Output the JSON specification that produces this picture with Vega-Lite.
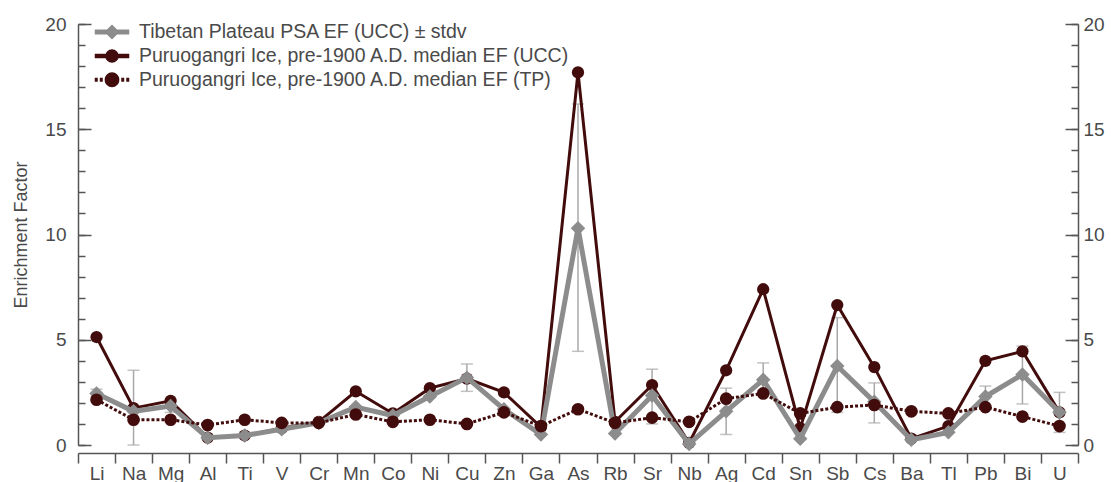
{
  "$schema": "https://vega.github.io/schema/vega-lite/v6.json",
  "width": 1000,
  "height": 421,
  "autosize": {"type": "none"},
  "padding": {"left": 78, "top": 24, "right": 33, "bottom": 37},
  "background": "white",
  "config": {
    "view": {"stroke": null},
    "font": "Liberation Sans",
    "axis": {"grid": false, "domainColor": "#555555", "tickColor": "#555555", "labelColor": "#4a4a4a", "labelFont": "Liberation Sans", "labelFontSize": 19, "domainWidth": 1.5, "tickWidth": 1.5, "titleFont": "Liberation Sans"},
    "legend": {"symbolFillColor": "#888888"}
  },
  "data": {
    "values": [
      {"el": "Li", "psa": 2.45, "lo": 2.3, "hi": 2.65, "ucc": 5.13, "tp": 2.15},
      {"el": "Na", "psa": 1.6, "lo": 0, "hi": 3.55, "ucc": 1.75, "tp": 1.2},
      {"el": "Mg", "psa": 1.85, "lo": 1.55, "hi": 2.15, "ucc": 2.1, "tp": 1.2},
      {"el": "Al", "psa": 0.35, "lo": null, "hi": null, "ucc": 0.35, "tp": 0.95},
      {"el": "Ti", "psa": 0.45, "lo": null, "hi": null, "ucc": 0.45, "tp": 1.2},
      {"el": "V", "psa": 0.75, "lo": null, "hi": null, "ucc": 0.8, "tp": 1.05},
      {"el": "Cr", "psa": 1.05, "lo": null, "hi": null, "ucc": 1.1, "tp": 1.05},
      {"el": "Mn", "psa": 1.8, "lo": null, "hi": null, "ucc": 2.55, "tp": 1.45},
      {"el": "Co", "psa": 1.4, "lo": null, "hi": null, "ucc": 1.5, "tp": 1.1},
      {"el": "Ni", "psa": 2.3, "lo": null, "hi": null, "ucc": 2.7, "tp": 1.2},
      {"el": "Cu", "psa": 3.2, "lo": 2.55, "hi": 3.85, "ucc": 3.15, "tp": 1.0},
      {"el": "Zn", "psa": 1.7, "lo": null, "hi": null, "ucc": 2.5, "tp": 1.55},
      {"el": "Ga", "psa": 0.5, "lo": null, "hi": null, "ucc": 0.85, "tp": 0.9},
      {"el": "As", "psa": 10.3, "lo": 4.45, "hi": 16.2, "ucc": 17.7, "tp": 1.7},
      {"el": "Rb", "psa": 0.55, "lo": null, "hi": null, "ucc": 1.1, "tp": 1.05},
      {"el": "Sr", "psa": 2.35, "lo": 1.0, "hi": 3.6, "ucc": 2.85, "tp": 1.3},
      {"el": "Nb", "psa": 0.05, "lo": null, "hi": null, "ucc": 0.1, "tp": 1.1},
      {"el": "Ag", "psa": 1.6, "lo": 0.5, "hi": 2.7, "ucc": 3.55, "tp": 2.2},
      {"el": "Cd", "psa": 3.1, "lo": 2.6, "hi": 3.9, "ucc": 7.4, "tp": 2.45},
      {"el": "Sn", "psa": 0.3, "lo": null, "hi": null, "ucc": 0.8, "tp": 1.5},
      {"el": "Sb", "psa": 3.75, "lo": 1.55, "hi": 6.05, "ucc": 6.65, "tp": 1.8},
      {"el": "Cs", "psa": 2.05, "lo": 1.05, "hi": 2.95, "ucc": 3.7, "tp": 1.9},
      {"el": "Ba", "psa": 0.25, "lo": null, "hi": null, "ucc": 0.3, "tp": 1.6},
      {"el": "Tl", "psa": 0.6, "lo": null, "hi": null, "ucc": 0.9, "tp": 1.5},
      {"el": "Pb", "psa": 2.3, "lo": 1.8, "hi": 2.8, "ucc": 4.0, "tp": 1.8},
      {"el": "Bi", "psa": 3.35, "lo": 1.95, "hi": 4.7, "ucc": 4.45, "tp": 1.35},
      {"el": "U", "psa": 1.55, "lo": 0.6, "hi": 2.5, "ucc": 1.55, "tp": 0.9}
    ]
  },
  "encoding": {
    "x": {
      "field": "el", "type": "nominal", "sort": null,
      "scale": {"type": "band", "paddingInner": 0, "paddingOuter": 0, "domain": ["Li","Na","Mg","Al","Ti","V","Cr","Mn","Co","Ni","Cu","Zn","Ga","As","Rb","Sr","Nb","Ag","Cd","Sn","Sb","Cs","Ba","Tl","Pb","Bi","U"]},
      "axis": {"title": null, "tickBand": "extent", "tickSize": 10, "labelAngle": 0, "labelPadding": 1, "offset": 8, "labelFontSize": 19}
    }
  },
  "layer": [
    {
      "mark": {"type": "rule", "color": "#a8a8a8", "strokeWidth": 1.5},
      "encoding": {
        "y": {"field": "lo", "type": "quantitative", "scale": {"domain": [0, 20], "nice": false},
          "axis": {"orient": "left", "values": [0, 5, 10, 15, 20], "tickSize": -13, "labelPadding": 25, "title": "Enrichment Factor", "titleFontSize": 18, "titleFontWeight": "normal", "titleColor": "#4a4a4a", "titlePadding": 14}},
        "y2": {"field": "hi"}
      }
    },
    {
      "mark": {"type": "tick", "color": "#a8a8a8", "thickness": 1.5, "size": 12},
      "encoding": {
        "y": {"field": "lo", "type": "quantitative", "scale": {"domain": [0, 20], "nice": false},
          "axis": {"orient": "left", "values": [0,1,2,3,4,5,6,7,8,9,10,11,12,13,14,15,16,17,18,19,20], "tickSize": -7, "labels": false, "domain": false, "title": null}}
      }
    },
    {
      "mark": {"type": "tick", "color": "#a8a8a8", "thickness": 1.5, "size": 12},
      "encoding": {
        "y": {"field": "hi", "type": "quantitative", "scale": {"domain": [0, 20], "nice": false},
          "axis": {"orient": "right", "values": [0, 5, 10, 15, 20], "tickSize": -13, "labelPadding": 18, "title": null}}
      }
    },
    {
      "mark": {"type": "line", "color": "#420c0c", "strokeWidth": 3},
      "encoding": {
        "y": {"field": "ucc", "type": "quantitative", "scale": {"domain": [0, 20], "nice": false},
          "axis": {"orient": "right", "values": [0,1,2,3,4,5,6,7,8,9,10,11,12,13,14,15,16,17,18,19,20], "tickSize": -7, "labels": false, "domain": false, "title": null}}
      }
    },
    {
      "mark": {"type": "point", "filled": true, "shape": "circle", "size": 150, "color": "#420c0c", "opacity": 1},
      "encoding": {"y": {"field": "ucc", "type": "quantitative", "axis": null}}
    },
    {
      "mark": {"type": "line", "color": "#8c8c8c", "strokeWidth": 5},
      "encoding": {"y": {"field": "psa", "type": "quantitative", "axis": null}}
    },
    {
      "mark": {"type": "point", "filled": true, "shape": "diamond", "size": 210, "color": "#8c8c8c", "opacity": 1},
      "encoding": {"y": {"field": "psa", "type": "quantitative", "axis": null}}
    },
    {
      "mark": {"type": "line", "color": "#420c0c", "strokeWidth": 3, "strokeDash": [3, 2]},
      "encoding": {"y": {"field": "tp", "type": "quantitative", "axis": null}}
    },
    {
      "mark": {"type": "point", "filled": true, "shape": "circle", "size": 160, "color": "#420c0c", "opacity": 1},
      "encoding": {"y": {"field": "tp", "type": "quantitative", "axis": null}}
    },
    {
      "transform": [{"fold": ["psa", "ucc", "tp"], "as": ["s", "v"]}],
      "mark": {"type": "point", "filled": true, "opacity": 0},
      "encoding": {
        "y": {"field": "v", "type": "quantitative", "axis": null},
        "fill": {"field": "s", "type": "nominal",
          "scale": {"domain": ["psa", "ucc", "tp"], "range": ["#8c8c8c", "#420c0c", "#420c0c"]},
          "legend": {"title": null, "orient": "none", "legendX": 24, "legendY": -2, "symbolSize": 225, "labelFontSize": 19.5, "labelFont": "Liberation Sans", "labelColor": "#4a4a4a", "labelOffset": 17, "labelLimit": 0, "rowPadding": -6, "padding": 0, "symbolOpacity": 1, "symbolFillColor": "#888888",
            "labelExpr": "datum.value == 'psa' ? 'Tibetan Plateau PSA EF (UCC) ± stdv' : datum.value == 'ucc' ? 'Puruogangri Ice, pre-1900 A.D. median EF (UCC)' : 'Puruogangri Ice, pre-1900 A.D. median EF (TP)'"}},
        "stroke": {"field": "s", "type": "nominal",
          "scale": {"domain": ["psa", "ucc", "tp"], "range": ["#8c8c8c", "#420c0c", "#420c0c"]},
          "legend": {"title": null, "orient": "none", "legendX": 24, "legendY": -2, "symbolSize": 225, "labelFontSize": 19.5, "labelFont": "Liberation Sans", "labelColor": "#4a4a4a", "labelOffset": 17, "labelLimit": 0, "rowPadding": -6, "padding": 0, "symbolOpacity": 1, "symbolFillColor": "#888888",
            "labelExpr": "datum.value == 'psa' ? 'Tibetan Plateau PSA EF (UCC) ± stdv' : datum.value == 'ucc' ? 'Puruogangri Ice, pre-1900 A.D. median EF (UCC)' : 'Puruogangri Ice, pre-1900 A.D. median EF (TP)'"}},
        "shape": {"field": "s", "type": "nominal",
          "scale": {"domain": ["psa", "ucc", "tp"], "range": ["M-2.3,0H2.3M0,-0.53L0.53,0L0,0.53L-0.53,0Z", "M-2.3,0H2.3M0.6,0A0.6,0.6,0,1,1,-0.6,0A0.6,0.6,0,1,1,0.6,0Z", "M-2.3,0H-1.9M-1.63,0H-1.23M-0.96,0H-0.7M0.7,0H0.96M1.23,0H1.63M1.9,0H2.3M0.72,0A0.72,0.72,0,1,1,-0.72,0A0.72,0.72,0,1,1,0.72,0Z"]},
          "legend": {"title": null, "orient": "none", "legendX": 24, "legendY": -2, "symbolSize": 225, "labelFontSize": 19.5, "labelFont": "Liberation Sans", "labelColor": "#4a4a4a", "labelOffset": 17, "labelLimit": 0, "rowPadding": -6, "padding": 0, "symbolOpacity": 1, "symbolFillColor": "#888888",
            "labelExpr": "datum.value == 'psa' ? 'Tibetan Plateau PSA EF (UCC) ± stdv' : datum.value == 'ucc' ? 'Puruogangri Ice, pre-1900 A.D. median EF (UCC)' : 'Puruogangri Ice, pre-1900 A.D. median EF (TP)'"}},
        "strokeWidth": {"field": "s", "type": "ordinal",
          "scale": {"domain": ["psa", "ucc", "tp"], "range": [5, 4, 3]},
          "legend": {"title": null, "orient": "none", "legendX": 24, "legendY": -2, "symbolSize": 225, "labelFontSize": 19.5, "labelFont": "Liberation Sans", "labelColor": "#4a4a4a", "labelOffset": 17, "labelLimit": 0, "rowPadding": -6, "padding": 0, "symbolOpacity": 1, "symbolFillColor": "#888888",
            "labelExpr": "datum.value == 'psa' ? 'Tibetan Plateau PSA EF (UCC) ± stdv' : datum.value == 'ucc' ? 'Puruogangri Ice, pre-1900 A.D. median EF (UCC)' : 'Puruogangri Ice, pre-1900 A.D. median EF (TP)'"}}
      }
    }
  ],
  "resolve": {"axis": {"y": "independent"}}
}
